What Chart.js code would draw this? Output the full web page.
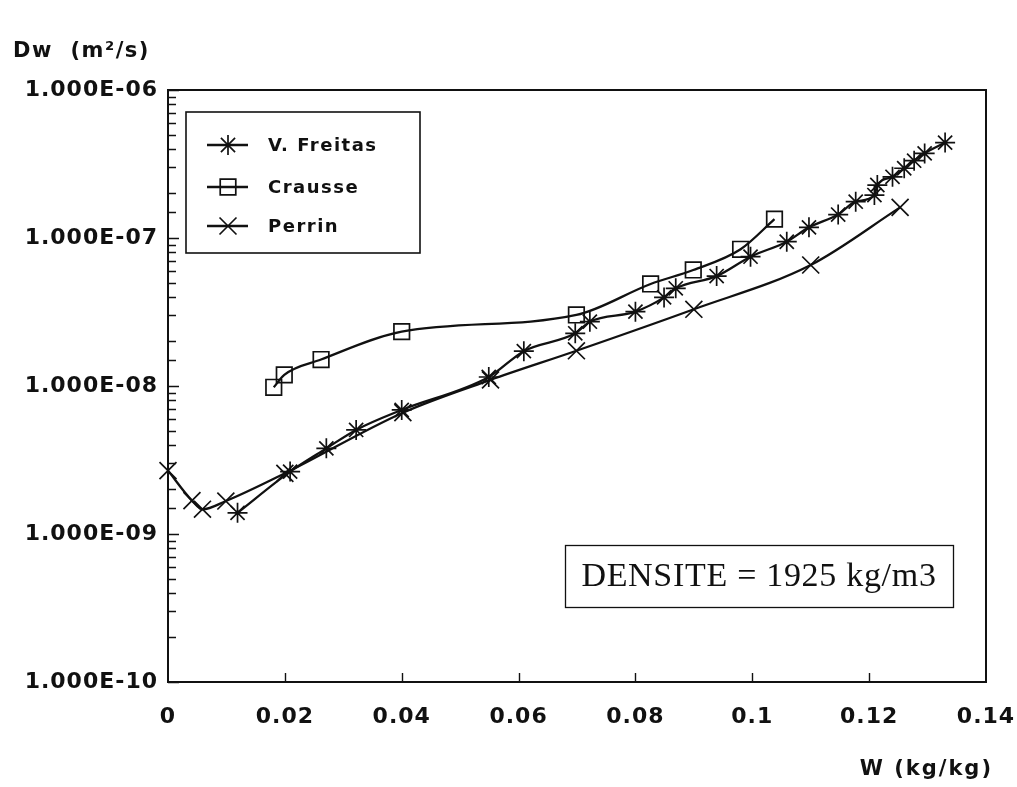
<!DOCTYPE html>
<html>
<head>
<meta charset="utf-8">
<title>Dw(W)</title>
<script src="https://cdn.jsdelivr.net/npm/chart.js@4.4.1/dist/chart.umd.min.js"></script>
<style>
    html, body { margin: 0; padding: 0; background: #fff; }
</style>
</head>
<body>
<canvas id="dw-chart" width="1017" height="787"></canvas>
<script>
// water content W (kg/kg) and diffusivity Dw (m2/s) per source
const freitasW  = [0.0119, 0.0209, 0.0271, 0.0322, 0.0400, 0.0549, 0.0609, 0.0697, 0.0722, 0.0800, 0.0849, 0.0869, 0.0939, 0.0997, 0.1059, 0.1097, 0.1147, 0.1177, 0.1209, 0.1214, 0.1240, 0.1260, 0.1277, 0.1295, 0.1330];
const freitasDw = [1.39e-9, 2.64e-9, 3.79e-9, 5.05e-9, 6.89e-9, 1.15e-8, 1.72e-8, 2.27e-8, 2.72e-8, 3.18e-8, 3.97e-8, 4.57e-8, 5.53e-8, 7.48e-8, 9.44e-8, 1.18e-7, 1.44e-7, 1.76e-7, 1.95e-7, 2.28e-7, 2.59e-7, 2.96e-7, 3.33e-7, 3.73e-7, 4.41e-7];

const crausseW  = [0.0181, 0.0199, 0.0262, 0.0400, 0.0699, 0.0826, 0.0899, 0.0980, 0.1038];
const crausseDw = [9.8e-9, 1.19e-8, 1.51e-8, 2.33e-8, 3.02e-8, 4.89e-8, 6.08e-8, 8.39e-8, 1.34e-7];

const perrinW  = [0, 0.0041, 0.0059, 0.0099, 0.0200, 0.0402, 0.0552, 0.0699, 0.0900, 0.1100, 0.1253];
const perrinDw = [2.68e-9, 1.68e-9, 1.47e-9, 1.67e-9, 2.57e-9, 6.6e-9, 1.10e-8, 1.73e-8, 3.30e-8, 6.57e-8, 1.61e-7];

const xTickValues = [0, 0.02, 0.04, 0.06, 0.08, 0.1, 0.12, 0.14];
const xTickLabels = ['0', '0.02', '0.04', '0.06', '0.08', '0.1', '0.12', '0.14'];
const yTickValues = [1e-10, 1e-9, 1e-8, 1e-7, 1e-6];
const yTickLabels = ['1.000E-10', '1.000E-09', '1.000E-08', '1.000E-07', '1.000E-06'];

const densityNote = 'DENSITE = 1925 kg/m3';

const INK = '#111';
const SANS = '"DejaVu Sans", Verdana, sans-serif';
const SERIF = '"Liberation Serif", "Times New Roman", serif';

const toPoints = (xs, ys) => xs.map((x, i) => ({ x: x, y: ys[i] }));

const isDecade = (v) => {
    const l = Math.log10(v);
    return Math.abs(l - Math.round(l)) < 1e-6;
};

const labelFor = (v, values, labels) => {
    const i = values.findIndex(t => Math.abs(t - v) <= Math.abs(v) * 1e-6 + 1e-12);
    return i < 0 ? '' : labels[i];
};

const makeSet = (label, xs, ys, style, radius) => ({
    label: label,
    data: toPoints(xs, ys),
    borderColor: INK,
    backgroundColor: 'rgba(0,0,0,0)',
    borderWidth: 2.3,
    pointStyle: style,
    pointRadius: radius,
    pointBorderWidth: 1.7,
    pointBorderColor: INK,
    pointBackgroundColor: 'rgba(0,0,0,0)',
    cubicInterpolationMode: 'monotone',
    clip: false
});

// frame, inward ticks, axis titles, legend box and the density note
const decorPlugin = {
    id: 'decor',
    beforeDraw(chart) {
        chart.ctx.letterSpacing = '1px';
    },
    afterDraw(chart) {
        const { ctx, chartArea: a, scales } = chart;
        const xs = scales.x, ys = scales.y;
        ctx.save();
        ctx.strokeStyle = INK;
        ctx.fillStyle = INK;

        ctx.lineWidth = 2;
        ctx.strokeRect(a.left, a.top, a.right - a.left, a.bottom - a.top);

        ctx.lineWidth = 1.4;
        ctx.beginPath();
        ys.ticks.forEach(t => {
            const py = Math.round(ys.getPixelForValue(t.value)) + 0.5;
            const len = isDecade(t.value) ? 11 : 8;
            ctx.moveTo(a.left, py);
            ctx.lineTo(a.left + len, py);
        });
        xs.ticks.forEach(t => {
            if (t.value <= xs.min || t.value >= xs.max) return;
            const px = Math.round(xs.getPixelForValue(t.value)) + 0.5;
            ctx.moveTo(px, a.bottom);
            ctx.lineTo(px, a.bottom - 9);
        });
        ctx.stroke();

        ctx.textBaseline = 'middle';
        ctx.font = 'bold 21px ' + SANS;
        ctx.letterSpacing = '1.5px';
        ctx.textAlign = 'left';
        ctx.fillText('Dw  (m²/s)', 13, a.top - 38);
        ctx.letterSpacing = '2px';
        ctx.textAlign = 'right';
        ctx.fillText('W (kg/kg)', a.right + 7, a.bottom + 88);

        // legend
        const lx = a.left + 18, ly = a.top + 22;
        ctx.lineWidth = 1.6;
        ctx.strokeRect(lx, ly, 234, 141);
        const rows = [55, 97, 136];
        ctx.font = 'bold 18px ' + SANS;
        ctx.letterSpacing = '1.5px';
        ctx.textAlign = 'left';
        chart.data.datasets.forEach((ds, i) => {
            const ry = a.top + rows[i];
            ctx.lineWidth = 2.3;
            ctx.beginPath();
            ctx.moveTo(lx + 21, ry);
            ctx.lineTo(lx + 62, ry);
            ctx.stroke();
            ctx.fillStyle = 'rgba(0,0,0,0)';
            ctx.lineWidth = 1.7;
            Chart.helpers.drawPoint(ctx, {
                pointStyle: ds.pointStyle,
                radius: ds.pointRadius,
                borderWidth: 1.7,
                rotation: 0
            }, lx + 42, ry);
            ctx.fillStyle = INK;
            ctx.fillText(ds.label, lx + 82, ry + 1);
        });

        // density note
        const nx = a.left + 397, ny = a.top + 455, nw = 388, nh = 62;
        ctx.lineWidth = 1.3;
        ctx.strokeRect(nx + 0.5, ny + 0.5, nw, nh);
        ctx.font = '34px ' + SERIF;
        ctx.letterSpacing = '0.7px';
        ctx.textAlign = 'center';
        ctx.fillText(densityNote, nx + nw / 2, ny + nh / 2 + 1);
        ctx.restore();
    }
};

const dwChart = new Chart(document.querySelector('#dw-chart'), {
    type: 'line',
    data: {
        datasets: [
            makeSet('V. Freitas', freitasW, freitasDw, 'star', 10),
            makeSet('Crausse', crausseW, crausseDw, 'rect', 11),
            makeSet('Perrin', perrinW, perrinDw, 'crossRot', 12)
        ]
    },
    options: {
        responsive: false,
        devicePixelRatio: 1,
        animation: false,
        layout: { padding: { top: 90, right: 0, left: 0, bottom: 0 } },
        plugins: {
            legend: { display: false },
            tooltip: { enabled: false },
            title: { display: false }
        },
        scales: {
            x: {
                type: 'linear',
                min: 0,
                max: 0.14,
                afterFit: (s) => {
                    s.height = 105;
                    s.paddingLeft = 0;
                    s.paddingRight = 31;
                },
                afterBuildTicks: (s) => { s.ticks = xTickValues.map(v => ({ value: v })); },
                grid: { display: false, drawTicks: false },
                border: { display: false },
                ticks: {
                    padding: 22,
                    color: INK,
                    maxRotation: 0,
                    autoSkip: false,
                    font: { family: SANS, size: 22, weight: 'bold' },
                    callback: (v) => labelFor(v, xTickValues, xTickLabels)
                }
            },
            y: {
                type: 'logarithmic',
                min: 1e-10,
                max: 1e-6,
                afterFit: (s) => { s.width = 168; },
                grid: { display: false, drawTicks: false },
                border: { display: false },
                ticks: {
                    padding: 10,
                    color: INK,
                    autoSkip: false,
                    font: { family: SANS, size: 22, weight: 'bold' },
                    callback: (v) => labelFor(v, yTickValues, yTickLabels)
                }
            }
        }
    },
    plugins: [decorPlugin]
});
</script>
</body>
</html>
